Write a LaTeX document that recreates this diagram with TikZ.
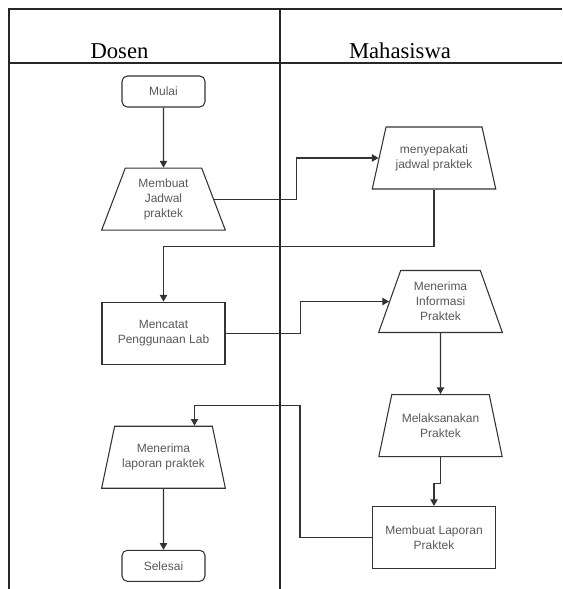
\documentclass[tikz,border=0pt]{standalone}
\usepackage{fontspec}
\setmainfont{Liberation Serif}
\setsansfont{Liberation Sans}
\usepackage{tikz}
\usetikzlibrary{positioning, shapes.geometric, arrows.meta}
\usepackage{xcolor}

\begin{document}
\begin{tikzpicture}[
        x=0.75pt, y=-0.75pt,
        lane/.style={draw=black!85, line width=1.1pt},
        lanehead/.style={anchor=base, font=\rmfamily\fontsize{17}{20}\selectfont},
        terminal/.style={rectangle, draw=black!80, line width=0.8pt, rounded corners=4pt,
                         minimum width=62.25pt, minimum height=23.25pt, align=center,
                         text=black!65, font=\sffamily\fontsize{9}{11.25}\selectfont},
        proses/.style={rectangle, draw=black!80, line width=0.8pt,
                       minimum width=92.25pt, minimum height=46.5pt, align=center,
                       text=black!65, font=\sffamily\fontsize{9}{11.25}\selectfont},
        manual/.style={trapezium, trapezium left angle=72, trapezium right angle=72,
                       trapezium stretches=true, draw=black!80, line width=0.8pt,
                       minimum width=93pt, minimum height=46.5pt, inner xsep=1pt,
                       align=center, text=black!65,
                       font=\sffamily\fontsize{9}{11.25}\selectfont},
        arrow/.style={-{Triangle[length=5pt, width=5.5pt]}, draw=black!80, line width=0.8pt}
    ]
    \useasboundingbox (0,0) rectangle (562,589);

    %% SWIMLANES
    \draw[lane] (562,9) -- (9,9) -- (9,589);
    \draw[lane] (9,63) -- (562,63);
    \draw[lane] (280,9) -- (280,589);
    \node[lanehead] (hdosen) at (119.5,58.5) {Dosen};
    \node[lanehead] (hmhs)   at (400,58.5)   {Mahasiswa};

    %% DOSEN
    \node[terminal] (mulai) at (163.5,91.5) {Mulai};
    \node[manual, below=45pt of mulai] (jadwal) {Membuat\\Jadwal\\praktek};
    \node[proses, below=53.25pt of jadwal] (catat) {Mencatat\\Penggunaan Lab};
    \node[manual, below=45.75pt of catat] (terimalap) {Menerima\\laporan praktek};
    \node[terminal, below=45.75pt of terimalap] (selesai) {Selesai};

    %% MAHASISWA
    \node[manual] (sepakat) at (434,158) {menyepakati\\jadwal praktek};
    \node[manual] (info) at (440.5,301.5) {Menerima\\Informasi\\Praktek};
    \node[manual, below=45.75pt of info] (melak) {Melaksanakan\\Praktek};
    \node[proses] (lapor) at (434,537.5) {Membuat Laporan\\Praktek};

    %% ALUR
    \draw[arrow] (mulai) -- (jadwal);
    \draw[arrow] (jadwal.east) -- ++(82,0) |- (sepakat.west);
    \draw[arrow] (sepakat.south) -- ++(0,57) -| (catat.north);
    \draw[arrow] (catat.east) -- ++(75,0) |- (info.west);
    \draw[arrow] (info) -- (melak);
    \draw[arrow] (melak.south) -- ++(0,26) -| (lapor.north);
    \draw[arrow] (lapor.west) -- ++(-72,0)
                 |- ([xshift=23.25pt, yshift=15pt]terimalap.north)
                 -- ([xshift=23.25pt]terimalap.north);
    \draw[arrow] (terimalap) -- (selesai);

\end{tikzpicture}
\end{document}
